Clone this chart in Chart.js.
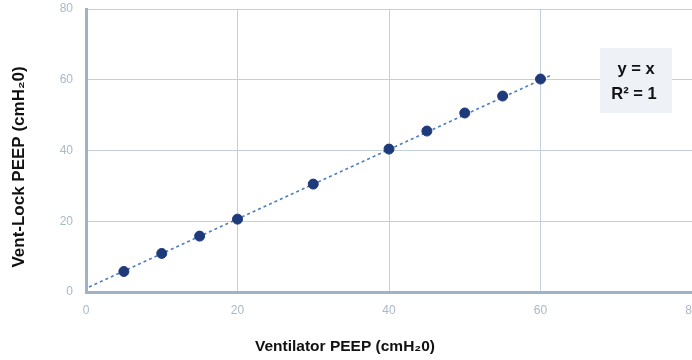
<!DOCTYPE html>
<html>
<head>
<meta charset="utf-8">
<script src="https://cdn.jsdelivr.net/npm/chart.js@4/dist/chart.umd.min.js"></script>
<style>
  html,body{margin:0;padding:0;background:#fff;overflow:hidden;}
  #wrap{width:692px;height:360px;position:relative;overflow:hidden;}
</style>
</head>
<body>
<div id="wrap"><canvas id="c" width="698" height="360"></canvas></div>
<script>
// ---- data ----
const ventilatorPeep = [5, 10, 15, 20, 30, 40, 45, 50, 55, 60];
const ventLockPeep   = [5.8, 10.9, 15.8, 20.6, 30.5, 40.4, 45.5, 50.6, 55.4, 60.2];
const fitLineX = [0.4, 61.4];
const fitLineY = [1.4, 61.3];
const tickValues = [0, 20, 40, 60, 80];
const xTitle = 'Ventilator PEEP (cmH\u20820)';
const yTitle = 'Vent-Lock PEEP (cmH\u20820)';
const annotationLines = ['y = x', 'R\u00B2 = 1'];

const FONT = '"Liberation Sans", Arial, Helvetica, sans-serif';
const gridColor = '#c3d0dc';
const axisColor = '#9fb2c6';
const tickColor = '#a9b8c8';

const pointsData = ventilatorPeep.map((x, i) => ({x, y: ventLockPeep[i]}));
const fitData = fitLineX.map((x, i) => ({x, y: fitLineY[i]}));

const overlayPlugin = {
  id: 'overlay',
  afterDraw(chart) {
    const ctx = chart.ctx;
    const ca = chart.chartArea;
    ctx.save();
    // axis titles
    ctx.fillStyle = '#111';
    ctx.textAlign = 'center';
    ctx.textBaseline = 'middle';
    ctx.font = 'bold 15.5px ' + FONT;
    ctx.fillText(xTitle, ca.left + 259, 347);
    ctx.save();
    ctx.translate(19, ca.top + 158);
    ctx.rotate(-Math.PI / 2);
    ctx.font = 'bold 17px ' + FONT;
    ctx.fillText(yTitle, 0, 0);
    ctx.restore();
    // annotation box
    const bx = 600, by = 48, bw = 72, bh = 65;
    ctx.fillStyle = '#eef2f7';
    ctx.fillRect(bx, by, bw, bh);
    ctx.fillStyle = '#111';
    ctx.font = 'bold 16.5px ' + FONT;
    ctx.fillText(annotationLines[0], bx + 36, by + 21);
    ctx.fillText(annotationLines[1], bx + 34, by + 46);
    ctx.restore();
  }
};

new Chart(document.getElementById('c'), {
  type: 'scatter',
  data: {
    datasets: [
      {
        label: 'fit',
        data: fitData,
        showLine: true,
        borderColor: '#4f7fbd',
        borderWidth: 1.6,
        borderDash: [3, 3],
        pointRadius: 0,
        fill: false,
        order: 2
      },
      {
        label: 'PEEP',
        data: pointsData,
        backgroundColor: '#1e3a7b',
        borderColor: '#1e3a7b',
        pointRadius: 5,
        pointHoverRadius: 5,
        order: 1
      }
    ]
  },
  options: {
    responsive: false,
    animation: false,
    events: [],
    layout: {padding: {top: 9, left: 0, right: 0, bottom: 0}},
    plugins: {legend: {display: false}, tooltip: {enabled: false}},
    scales: {
      x: {
        type: 'linear',
        min: 0, max: 80,
        afterBuildTicks: s => { s.ticks = tickValues.map(v => ({value: v})); },
        afterFit: s => { s.height = 68; s.paddingLeft = 0; s.paddingRight = 0; },
        grid: {color: gridColor, lineWidth: 1, drawTicks: false},
        border: {display: true, color: axisColor, width: 3},
        ticks: {color: tickColor, font: {family: FONT, size: 12}, padding: 11, maxRotation: 0}
      },
      y: {
        type: 'linear',
        min: 0, max: 80,
        afterBuildTicks: s => { s.ticks = tickValues.map(v => ({value: v})); },
        afterFit: s => { s.width = 86; s.paddingTop = 0; s.paddingBottom = 0; },
        grid: {color: gridColor, lineWidth: 1, drawTicks: false},
        border: {display: true, color: axisColor, width: 3},
        ticks: {color: tickColor, font: {family: FONT, size: 12}, padding: 13}
      }
    }
  },
  plugins: [overlayPlugin]
});
</script>
</body>
</html>
